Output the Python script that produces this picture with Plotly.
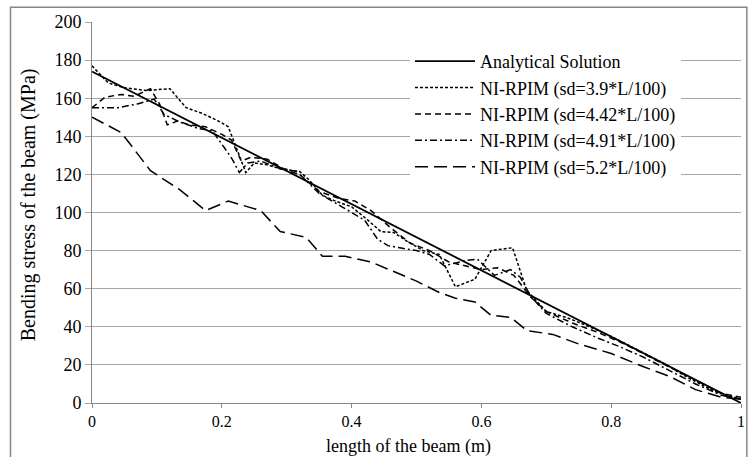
import plotly.graph_objects as go

# Analytical solution
x_an = [0.0, 1.0]
y_an = [174, 0]

# NI-RPIM sd=3.9*L/100
x_39 = [0, 0.025, 0.05, 0.085, 0.12, 0.145, 0.17, 0.195, 0.21, 0.225, 0.237, 0.25, 0.27, 0.29, 0.32, 0.335,
        0.355, 0.375, 0.4, 0.425, 0.445, 0.465, 0.485, 0.51, 0.535, 0.56, 0.59, 0.615, 0.648, 0.67, 0.7,
        0.73, 0.76, 0.8, 0.84, 0.88, 0.92, 0.96, 1.0]
y_39 = [177, 168, 165.5, 164, 165, 155, 152, 148, 145, 132, 121, 126, 125, 123, 121.5, 117,
        109, 106, 103, 96, 90, 89.5, 85, 80, 78, 61, 65, 80, 81.5, 59, 48,
        45, 41, 35, 28, 21, 13, 6, 2]

# NI-RPIM sd=4.42*L/100
x_442 = [0, 0.02, 0.045, 0.065, 0.09, 0.104, 0.116, 0.132, 0.15, 0.175, 0.2, 0.215, 0.23, 0.245, 0.27,
         0.295, 0.315, 0.35, 0.38, 0.405, 0.43, 0.46, 0.49, 0.52, 0.55, 0.575, 0.6, 0.625, 0.65, 0.675,
         0.7, 0.74, 0.78, 0.82, 0.86, 0.9, 0.94, 0.97, 1.0]
y_442 = [155, 160.5, 162, 161, 165, 157, 146, 148, 146, 145, 141, 138, 127, 129, 128,
         123, 121.5, 111, 107.5, 106, 101, 92, 84, 80, 74, 72, 70, 71, 67, 56,
         48, 42, 37, 31, 24, 17, 10, 5, 3]

# NI-RPIM sd=4.91*L/100
x_491 = [0, 0.04, 0.07, 0.096, 0.111, 0.135, 0.165, 0.185, 0.204, 0.216, 0.227, 0.24, 0.26, 0.29, 0.32,
         0.35, 0.385, 0.42, 0.44, 0.456, 0.472, 0.5, 0.52, 0.543, 0.574, 0.594, 0.62, 0.645, 0.66, 0.676,
         0.7, 0.74, 0.78, 0.81, 0.85, 0.89, 0.93, 0.97, 1.0]
y_491 = [155, 155, 157, 159.5, 151.5, 147.5, 144, 143, 134, 128, 121, 126, 127, 123, 120,
         110, 103, 96, 86, 82.6, 81.6, 80, 78, 72, 74.7, 75.5, 67, 70, 66, 56,
         47, 40, 34, 30, 24, 17, 10, 4, 2]

# NI-RPIM sd=5.2*L/100
x_52 = [0, 0.045, 0.09, 0.135, 0.175, 0.21, 0.26, 0.29, 0.33, 0.355, 0.39, 0.43, 0.465, 0.5, 0.535,
        0.56, 0.59, 0.615, 0.645, 0.67, 0.71, 0.75, 0.8, 0.85, 0.89, 0.93, 0.97, 1.0]
y_52 = [150, 142, 122, 112, 101, 106, 101, 90, 87, 77, 77, 74, 69, 64, 58,
        55, 53, 46, 45, 38, 36, 31, 26, 19, 14, 7, 3, 2]

names = ["Analytical Solution", "NI-RPIM (sd=3.9*L/100)", "NI-RPIM (sd=4.42*L/100)",
         "NI-RPIM (sd=4.91*L/100)", "NI-RPIM (sd=5.2*L/100)"]
xs = [x_an, x_39, x_442, x_491, x_52]
ys = [y_an, y_39, y_442, y_491, y_52]
dashes = ["solid", "3px,2px", "6px,4px", "7px,3px,2px,3px", "13px,6px"]
widths = [1.8, 1.5, 1.5, 1.5, 1.5]

FONT = "Liberation Serif"

fig = go.Figure()
for n, x, y, d, w in zip(names, xs, ys, dashes, widths):
    fig.add_trace(go.Scatter(x=x, y=y, name=n, mode="lines",
                             line=dict(color="black", width=w, dash=d)))

fig.update_layout(
    width=753, height=457,
    margin=dict(l=92, r=8, t=22, b=54),
    paper_bgcolor="white", plot_bgcolor="white",
    font=dict(family=FONT, size=18, color="black"),
    showlegend=True,
    legend=dict(x=0.49, y=0.945, xanchor="left", yanchor="top",
                bgcolor="white", borderwidth=0,
                font=dict(family=FONT, size=18, color="black"),
                itemwidth=60, tracegroupgap=0),
    xaxis=dict(range=[0, 1], dtick=0.2, tick0=0, showgrid=False, zeroline=False,
               showline=True, linecolor="#868686", linewidth=1,
               ticks="outside", ticklen=4, tickcolor="#868686",
               tickfont=dict(family=FONT, size=16, color="black")),
    yaxis=dict(range=[0, 200], dtick=20, tick0=0, showgrid=True, gridcolor="#a6a6a6",
               gridwidth=1, zeroline=False,
               showline=True, linecolor="#868686", linewidth=1,
               ticks="outside", ticklen=6, tickcolor="#a6a6a6",
               tickfont=dict(family=FONT, size=18, color="black")),
    annotations=[
        dict(text="length of the beam (m)", xref="paper", yref="paper",
             x=0.487, y=-0.113, xanchor="center", yanchor="middle", showarrow=False,
             font=dict(family=FONT, size=18, color="black")),
        dict(text="Bending stress of the beam (MPa)", xref="paper", yref="paper",
             x=-0.098, y=0.52, xanchor="center", yanchor="middle", showarrow=False,
             textangle=-90, font=dict(family=FONT, size=20, color="black")),
    ],
    shapes=[
        dict(type="rect", xref="paper", yref="paper", x0=-0.1256, x1=1.009, y0=-0.3, y1=1.039,
             line=dict(color="#868686", width=1.5), fillcolor="rgba(0,0,0,0)", layer="below"),
    ],
)

fig.write_html("out.html")
